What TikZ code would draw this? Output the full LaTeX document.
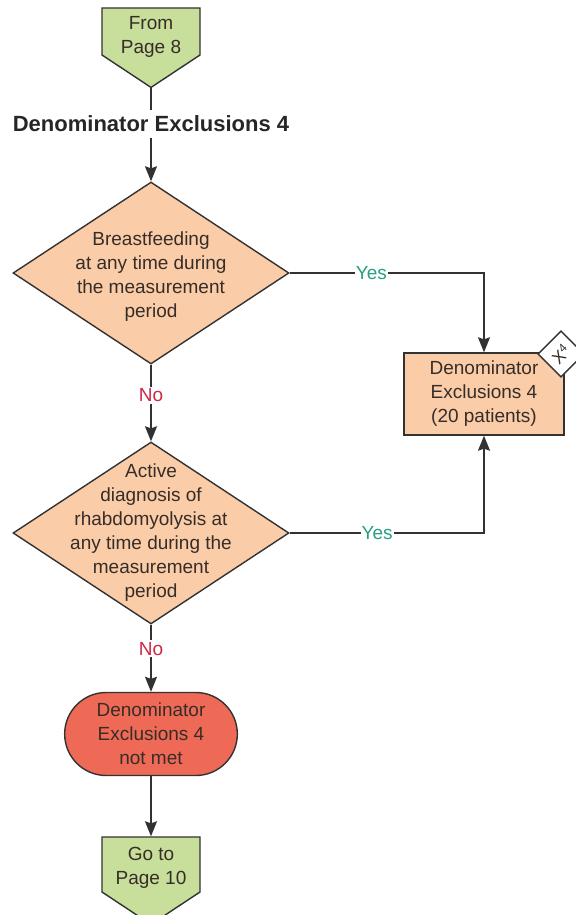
\documentclass[tikz,border=0pt]{standalone}
\usepackage{fontspec}
\setmainfont{Liberation Sans}
\usetikzlibrary{shapes.geometric,shapes.misc,shapes.symbols,arrows.meta}
\definecolor{linkgreen}{RGB}{200,222,155}
\definecolor{peach}{RGB}{250,204,168}
\definecolor{notmet}{RGB}{238,106,86}
\definecolor{linegray}{RGB}{50,50,50}
\definecolor{textgray}{RGB}{55,45,40}
\definecolor{yesteal}{RGB}{40,160,130}
\definecolor{nored}{RGB}{205,40,70}
\tikzset{>={Stealth[inset=1pt,length=7.5pt,width=6pt]}}
\tikzset{
    every node/.style={font=\fontsize{9.5pt}{12pt}\selectfont, text=textgray},
    decision/.style={diamond, draw=linegray, line width=0.7pt, fill=peach,
        minimum width=138pt, minimum height=91pt, inner sep=0pt},
    innertext/.style={align=center, inner sep=0pt},
    pagelink/.style={signal, signal to=south, signal pointer angle=113,
        draw=linegray, line width=0.7pt, fill=linkgreen,
        minimum width=49pt, minimum height=23.5pt, inner sep=0pt},
    outcome/.style={rectangle, draw=linegray, line width=0.7pt, fill=peach,
        minimum width=80pt, minimum height=41pt, align=center},
    stopnode/.style={rounded rectangle, draw=linegray, line width=0.7pt, fill=notmet,
        minimum width=93pt, minimum height=41.5pt, align=center},
    tagbox/.style={diamond, draw=linegray, line width=0.7pt, fill=white,
        minimum width=17pt, minimum height=21pt, inner sep=0pt,
        font=\fontsize{8.5pt}{9pt}\selectfont},
    flowline/.style={draw=linegray, line width=0.7pt},
    yeslabel/.style={fill=white, inner sep=0.5pt, text=yesteal},
    nolabel/.style={fill=white, inner sep=1pt, text=nored},
}

\begin{document}
\begin{tikzpicture}[x=0.5pt, y=-0.5pt]
    \useasboundingbox (0,0) rectangle (575,915);
    \node[pagelink, label={[innertext, yshift=-2.75pt]center:{From\\Page 8}}] (frompage) at (151,31.5) {};
    \node[font=\bfseries\fontsize{11pt}{13pt}\selectfont, text=black!85, minimum height=14pt, inner sep=0pt] (title) at (151,124) {Denominator Exclusions 4};
    \node[decision, label={[innertext, yshift=-2pt]center:{Breastfeeding\\at any time during\\the measurement\\period}}] (breast) at (151,273) {};
    \node[decision, label={[innertext]center:{Active\\diagnosis of\\rhabdomyolysis at\\any time during the\\measurement\\period}}] (rhabdo) at (151,533) {};
    \node[outcome] (excl) at (484,394) {Denominator\\Exclusions 4\\(20 patients)};
    \node[tagbox] (xtag) at (561,354) {\rotatebox{45}{X\textsuperscript{4}}};
    \node[stopnode] (notmet) at (151,734) {Denominator\\Exclusions 4\\not met};
    \node[pagelink, minimum height=27.5pt, label={[innertext, yshift=-1.5pt]center:{Go to\\Page 10}}] (topage) at (151,864.5) {};

    \draw[flowline] (frompage.south) -- (title.north);
    \draw[flowline,->] (title.south) -- (breast.north);
    \draw[flowline,->] (breast.east) -- node[yeslabel, pos=0.42] {Yes} (breast.east -| excl) -- (excl.north);
    \draw[flowline,->] (breast.south) -- node[nolabel, pos=0.4] {No} (rhabdo.north);
    \draw[flowline,->] (rhabdo.east) -- node[yeslabel, pos=0.45] {Yes} (rhabdo.east -| excl) -- (excl.south);
    \draw[flowline,->] (rhabdo.south) -- node[nolabel, pos=0.36] {No} (notmet.north);
    \draw[flowline,->] (notmet.south) -- (topage.north);
\end{tikzpicture}
\end{document}
